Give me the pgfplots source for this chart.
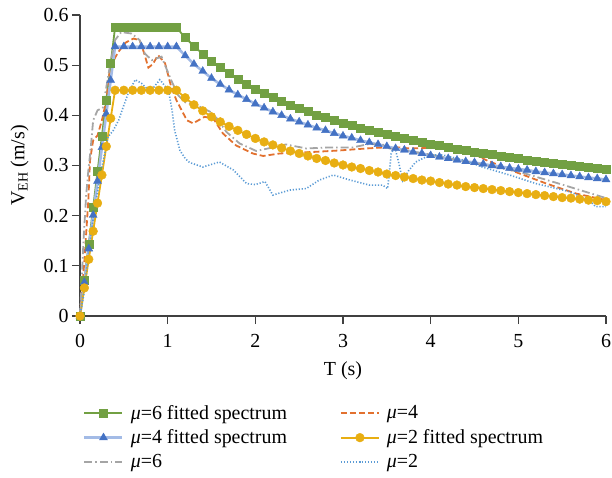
\documentclass[border=0pt]{standalone}
\usepackage{fontspec}
\setmainfont{Liberation Serif}
\usepackage{pgfplots}
\usepackage{pgfplotstable}
\pgfplotsset{compat=1.18}

\definecolor{fitgreen}{HTML}{72A043}
\definecolor{fitblue}{HTML}{4472C4}
\definecolor{fitbluel}{HTML}{A3BBE6}
\definecolor{fityellow}{HTML}{E8AE12}
\definecolor{rawgray}{HTML}{A5A5A5}
\definecolor{raworange}{HTML}{E2712F}
\definecolor{rawblue}{HTML}{5B9BD5}

% fitted spectra (mu=6, mu=4, mu=2)
\pgfplotstableread{
T    G     B     Y
0    0     0     0
0.05 0.072 0.067 0.056
0.10 0.144 0.134 0.113
0.15 0.216 0.201 0.169
0.20 0.288 0.269 0.225
0.25 0.359 0.336 0.281
0.30 0.431 0.403 0.338
0.35 0.503 0.470 0.394
0.40 0.575 0.537 0.450
0.5  0.575 0.537 0.450
0.6  0.575 0.537 0.450
0.7  0.575 0.537 0.450
0.8  0.575 0.537 0.450
0.9  0.575 0.537 0.450
1.0  0.575 0.537 0.450
1.1  0.575 0.537 0.450
1.2  0.555 0.519 0.435
1.3  0.538 0.502 0.421
1.4  0.522 0.488 0.409
1.5  0.508 0.474 0.397
1.6  0.495 0.462 0.387
1.7  0.483 0.451 0.378
1.8  0.472 0.441 0.370
1.9  0.462 0.432 0.362
2.0  0.453 0.423 0.354
2.1  0.444 0.415 0.347
2.2  0.436 0.407 0.341
2.3  0.428 0.400 0.335
2.4  0.421 0.393 0.329
2.5  0.414 0.387 0.324
2.6  0.408 0.381 0.319
2.7  0.401 0.375 0.314
2.8  0.396 0.370 0.310
2.9  0.390 0.364 0.305
3.0  0.385 0.359 0.301
3.1  0.380 0.355 0.297
3.2  0.375 0.350 0.294
3.3  0.371 0.346 0.290
3.4  0.366 0.342 0.287
3.5  0.362 0.338 0.283
3.6  0.358 0.334 0.280
3.7  0.354 0.331 0.277
3.8  0.350 0.327 0.274
3.9  0.347 0.324 0.271
4.0  0.343 0.320 0.269
4.1  0.340 0.317 0.266
4.2  0.336 0.314 0.263
4.3  0.333 0.311 0.261
4.4  0.330 0.308 0.258
4.5  0.327 0.306 0.256
4.6  0.324 0.303 0.254
4.7  0.322 0.300 0.252
4.8  0.319 0.298 0.250
4.9  0.316 0.295 0.248
5.0  0.314 0.293 0.246
5.1  0.311 0.291 0.244
5.2  0.309 0.288 0.242
5.3  0.307 0.286 0.240
5.4  0.304 0.284 0.238
5.5  0.302 0.282 0.236
5.6  0.300 0.280 0.235
5.7  0.298 0.278 0.233
5.8  0.296 0.276 0.231
5.9  0.294 0.274 0.230
6.0  0.292 0.272 0.228
}\fitted

\begin{document}
\begin{tikzpicture}
\useasboundingbox (-80bp,-162bp) rectangle (532bp,316bp);
\begin{axis}[
  scale only axis,
  width=526bp, height=301bp,
  xmin=0, xmax=6, ymin=0, ymax=0.6,
  xtick={0,1,...,6},
  ytick={0,0.1,...,0.6},
  yticklabel style={/pgf/number format/fixed, /pgf/number format/precision=1},
  /pgf/number format/assume math mode=true,
  axis x line*=bottom, axis y line*=left,
  axis line style={draw=black!75, line width=1.2bp},
  tick style={draw=black!75, line width=1.2bp},
  tick align=outside, major tick length=8bp,
  xticklabel shift=7bp,
  tick label style={font=\fontsize{20}{23}\selectfont},
  label style={font=\fontsize{20}{23}\selectfont},
  xlabel={T (s)}, xlabel shift=7bp,
  ylabel={V\textsubscript{EH} (m/s)}, ylabel shift=8bp,
  clip=false,
  legend columns=2,
  legend cell align=left,
  legend style={draw=none, fill=none, at={(0.0,-0.283)}, anchor=north west,
    font=\fontsize{20}{23}\selectfont, row sep=5bp,
    /tikz/every odd column/.append style={column sep=5bp},
    /tikz/every even column/.append style={column sep=51bp}},
  legend image code/.code={\draw[mark repeat=2,mark phase=2,#1]
    plot coordinates {(0bp,0bp)(19bp,0bp)(38bp,0bp)};},
]
\addplot[fitgreen, line width=1.8bp, mark=square*, mark size=4bp,
  mark options={solid, line width=0.4bp, fill=fitgreen, draw=fitgreen}]
  table[x=T, y=G] {\fitted};
\addlegendentry{\textit{μ}=6 fitted spectrum}

\addplot[raworange, line width=1.8bp, dash pattern=on 6bp off 3bp]
  coordinates {(0,0)(0.05,0.11)(0.095,0.23)(0.114,0.31)(0.15,0.35)(0.2,0.36)
  (0.25,0.39)(0.3,0.43)(0.34,0.49)(0.4,0.515)(0.44,0.527)(0.52,0.545)(0.61,0.553)
  (0.68,0.55)(0.73,0.525)(0.78,0.495)(0.83,0.502)(0.89,0.52)(0.97,0.504)(1.04,0.457)
  (1.1,0.43)(1.16,0.41)(1.22,0.39)(1.29,0.384)(1.35,0.39)(1.42,0.397)(1.52,0.394)
  (1.63,0.364)(1.78,0.34)(1.97,0.324)(2.09,0.319)(2.28,0.324)(2.66,0.327)(2.96,0.33)
  (3.27,0.334)(3.57,0.337)(3.76,0.334)(4.0,0.335)(4.21,0.337)(4.4,0.331)(4.63,0.311)
  (4.97,0.287)(5.32,0.264)(5.66,0.244)(6.0,0.231)};
\addlegendentry{\textit{μ}=4}

\addplot[fitbluel, line width=2.6bp, mark=triangle*, mark size=4.6bp,
  mark options={solid, line width=0.4bp, fill=fitblue, draw=fitblue}]
  table[x=T, y=B] {\fitted};
\addlegendentry{\textit{μ}=4 fitted spectrum}

\addplot[fityellow, line width=1.8bp, mark=*, mark size=4.4bp,
  mark options={solid, line width=0.4bp, fill=fityellow, draw=fityellow}]
  table[x=T, y=Y] {\fitted};
\addlegendentry{\textit{μ}=2 fitted spectrum}

\addplot[rawgray, line width=1.8bp, dash pattern=on 8bp off 3bp on 1.5bp off 3bp]
  coordinates {(0,0)(0.04,0.15)(0.07,0.24)(0.095,0.29)(0.12,0.33)(0.15,0.39)
  (0.2,0.41)(0.26,0.415)(0.34,0.497)(0.4,0.55)(0.47,0.566)(0.59,0.563)(0.68,0.55)
  (0.74,0.523)(0.82,0.51)(0.93,0.517)(1.04,0.47)(1.12,0.44)(1.2,0.426)(1.37,0.417)
  (1.52,0.404)(1.67,0.367)(1.82,0.344)(2.01,0.329)(2.2,0.336)(2.35,0.342)(2.58,0.334)
  (2.85,0.336)(3.11,0.336)(3.3,0.343)(3.49,0.341)(3.53,0.334)(3.7,0.33)(4.0,0.322)
  (4.21,0.314)(4.5,0.305)(4.78,0.295)(5.0,0.288)(5.5,0.262)(6.0,0.235)};
\addlegendentry{\textit{μ}=6}

\addplot[rawblue, line width=1.6bp, dash pattern=on 1.2bp off 1.8bp]
  coordinates {(0,0)(0.05,0.05)(0.095,0.125)(0.17,0.218)(0.25,0.297)(0.32,0.357)
  (0.38,0.37)(0.44,0.39)(0.5,0.42)(0.55,0.444)(0.63,0.471)(0.7,0.464)(0.8,0.447)
  (0.91,0.471)(1.01,0.45)(1.05,0.41)(1.08,0.37)(1.14,0.33)(1.2,0.314)(1.25,0.306)
  (1.4,0.297)(1.59,0.307)(1.75,0.291)(1.9,0.264)(2.0,0.262)(2.11,0.268)(2.2,0.241)
  (2.39,0.251)(2.58,0.254)(2.73,0.271)(2.89,0.281)(3.08,0.271)(3.3,0.261)(3.45,0.261)
  (3.51,0.254)(3.55,0.324)(3.59,0.337)(3.63,0.31)(3.68,0.27)(3.75,0.29)(3.83,0.307)
  (3.99,0.321)(4.14,0.321)(4.37,0.311)(4.59,0.297)(4.9,0.281)(5.2,0.264)(5.58,0.248)
  (5.81,0.231)(5.88,0.218)(6.0,0.218)};
\addlegendentry{\textit{μ}=2}
\end{axis}
\end{tikzpicture}
\end{document}
